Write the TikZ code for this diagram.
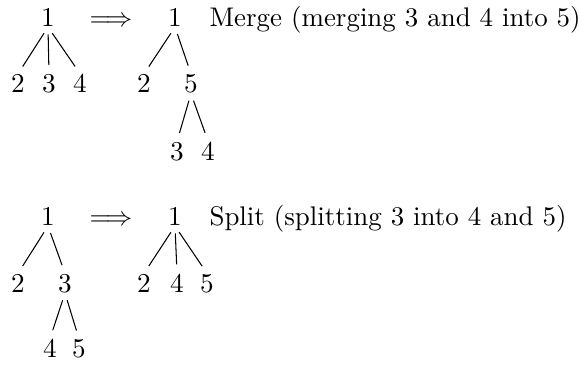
\documentclass[tikz,border=0pt]{standalone}
\begin{document}
\begin{tikzpicture}[x=0.3788pt,y=-0.3788pt,
  lab/.style={anchor=base,inner sep=0pt,font=\fontsize{10.3}{12.4}\selectfont},
  txt/.style={anchor=base west,inner sep=0pt,font=\fontsize{10.2}{12.4}\selectfont},
  edge/.style={shorten <=2.8pt,shorten >=3.3pt}]
\useasboundingbox (0,0) rectangle (580,364);
% Merge: before
\node[lab] (a1) at (48,26.5) {1};
\node[lab] (a2) at (18,92.5) {2};
\node[lab] (a3) at (49,92.5) {3};
\node[lab] (a4) at (80,92.5) {4};
\foreach \c in {a2,a3,a4} \draw[edge] (a1.south) -- (\c.north);
\node[lab] (m1) at (111,26.5) {$\Longrightarrow$};
% Merge: after
\node[lab] (b1) at (175,26.5) {1};
\node[lab] (b2) at (144,92.5) {2};
\node[lab] (b5) at (191,92.5) {5};
\node[lab] (b3) at (177,160) {3};
\node[lab] (b4) at (208,160) {4};
\foreach \c in {b2,b5} \draw[edge] (b1.south) -- (\c.north);
\foreach \c in {b3,b4} \draw[edge] (b5.south) -- (\c.north);
\node[txt] (t1) at (209,26.5) {Merge (merging 3 and 4 into 5)};
% Split: before
\node[lab] (c1) at (48,225.5) {1};
\node[lab] (c2) at (18,292) {2};
\node[lab] (c3) at (65,292) {3};
\node[lab] (c4) at (50,357.5) {4};
\node[lab] (c5) at (79,357.5) {5};
\foreach \c in {c2,c3} \draw[edge] (c1.south) -- (\c.north);
\foreach \c in {c4,c5} \draw[edge] (c3.south) -- (\c.north);
\node[lab] (m2) at (111,225.5) {$\Longrightarrow$};
% Split: after
\node[lab] (d1) at (175,225.5) {1};
\node[lab] (d2) at (144,292) {2};
\node[lab] (d4) at (177,292) {4};
\node[lab] (d5) at (207,292) {5};
\foreach \c in {d2,d4,d5} \draw[edge] (d1.south) -- (\c.north);
\node[txt] (t2) at (209,225.5) {Split (splitting 3 into 4 and 5)};
\end{tikzpicture}
\end{document}
